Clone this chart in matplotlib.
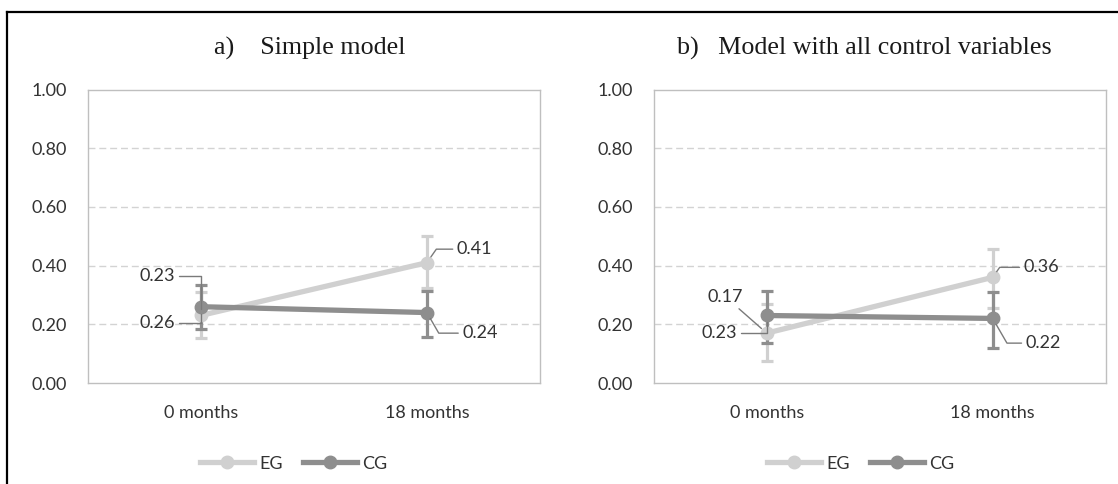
import matplotlib.pyplot as plt
from matplotlib.lines import Line2D

# data
times = ["0 months", "18 months"]
groups = ["EG", "CG"]

# a) simple model
a_eg = [0.23, 0.41]
a_cg = [0.26, 0.24]
a_eg_lo = [0.155, 0.325]
a_eg_hi = [0.31, 0.50]
a_cg_lo = [0.185, 0.157]
a_cg_hi = [0.335, 0.315]

# b) model with all control variables
b_eg = [0.17, 0.36]
b_cg = [0.23, 0.22]
b_eg_lo = [0.075, 0.255]
b_eg_hi = [0.27, 0.455]
b_cg_lo = [0.135, 0.12]
b_cg_hi = [0.315, 0.31]

y_ticks = [0.0, 0.2, 0.4, 0.6, 0.8, 1.0]

eg_col = "#d0d0d0"
cg_col = "#8e8e8e"
txt_col = "#333333"
fs = 13

plt.rcParams["font.family"] = ["Lato", "DejaVu Sans"]

W, H = 1118, 484
fig = plt.figure(figsize=(W / 100, H / 100), dpi=100)

# outer frame (top + left edge)
fig.add_artist(Line2D([7 / W, 1.01], [1 - 12 / H, 1 - 12 / H], color="black", lw=1.6))
fig.add_artist(Line2D([7 / W, 7 / W], [1 - 12 / H, -0.01], color="black", lw=1.6))

ax_a = fig.add_axes([87.5 / W, 1 - 383 / H, 452.5 / W, 293.5 / H])
ax_b = fig.add_axes([653.7 / W, 1 - 383 / H, 452 / W, 293.5 / H])


def panel(ax, title, tx, eg, cg, eg_lo, eg_hi, cg_lo, cg_hi, offsets, legx):
    x = list(range(len(times)))
    for vals, lo, hi, col, z in [(eg, eg_lo, eg_hi, eg_col, 2), (cg, cg_lo, cg_hi, cg_col, 2.5)]:
        err = [[v - l for v, l in zip(vals, lo)], [h - v for v, h in zip(vals, hi)]]
        ax.errorbar(x, vals, yerr=err, fmt="none", ecolor=col, elinewidth=2.3,
                    capsize=4, capthick=2.3, zorder=z)
    ax.plot(x, eg, color=eg_col, lw=3.8, marker="o", ms=9, label=groups[0], zorder=3)
    ax.plot(x, cg, color=cg_col, lw=3.8, marker="o", ms=9, label=groups[1], zorder=4)

    # data labels with leader lines
    pts = [(0, eg[0]), (0, cg[0]), (1, eg[1]), (1, cg[1])]
    for (px, py), (dx, dy, ha, conn) in zip(pts, offsets):
        ax.annotate(f"{py:.2f}", xy=(px, py), xytext=(dx, dy), textcoords="offset pixels",
                    ha=ha, va="center", fontsize=fs, color=txt_col, zorder=6,
                    arrowprops=dict(arrowstyle="-", color="#7a7a7a", lw=1,
                                    connectionstyle=conn, shrinkA=1, shrinkB=5))

    ax.set_xlim(-0.5, 1.5)
    ax.set_ylim(0, 1)
    ax.set_xticks(x)
    ax.set_xticklabels(times)
    ax.set_yticks(y_ticks)
    ax.set_yticklabels([f"{t:.2f}" for t in y_ticks])
    ax.tick_params(length=0, labelsize=fs, labelcolor=txt_col)
    ax.tick_params(axis="y", pad=15)
    ax.tick_params(axis="x", pad=16)
    for y in y_ticks[1:-1]:
        ax.axhline(y, color="#d3d3d3", lw=1, dashes=(5, 2.8), zorder=1)
    for s in ax.spines.values():
        s.set_color("#bfbfbf")
        s.set_linewidth(1)
    ax.text(tx, 1.139, title, transform=ax.transAxes, ha="center", va="center",
            fontsize=18.7, family="Liberation Serif", color="#1a1a1a")
    ax.legend(loc="center", bbox_to_anchor=(legx, -0.275), ncol=2, frameon=False,
              fontsize=fs, handlelength=3.0, handletextpad=0.3, columnspacing=1.1,
              labelcolor=txt_col)


panel(ax_a, "a)    Simple model", 0.492, a_eg, a_cg, a_eg_lo, a_eg_hi, a_cg_lo, a_cg_hi,
      [(-26, 39, "right", "angle,angleA=0,angleB=90,rad=0"),
       (-26, -16.4, "right", "angle,angleA=0,angleB=90,rad=0"),
       (30, 13.5, "left", "angle,angleA=0,angleB=55,rad=0"),
       (35.5, -20.6, "left", "angle,angleA=0,angleB=-60,rad=0")], 0.456)

panel(ax_b, "b)   Model with all control variables", 0.4666, b_eg, b_cg, b_eg_lo, b_eg_hi,
      b_cg_lo, b_cg_hi,
      [(-41, 36, "center", "arc3,rad=0"),
       (-30, -17.6, "right", "angle,angleA=0,angleB=90,rad=0"),
       (31, 10, "left", "angle,angleA=0,angleB=55,rad=0"),
       (33, -24.7, "left", "angle,angleA=0,angleB=-60,rad=0")], 0.458)

fig.savefig("out.png", dpi=100)
